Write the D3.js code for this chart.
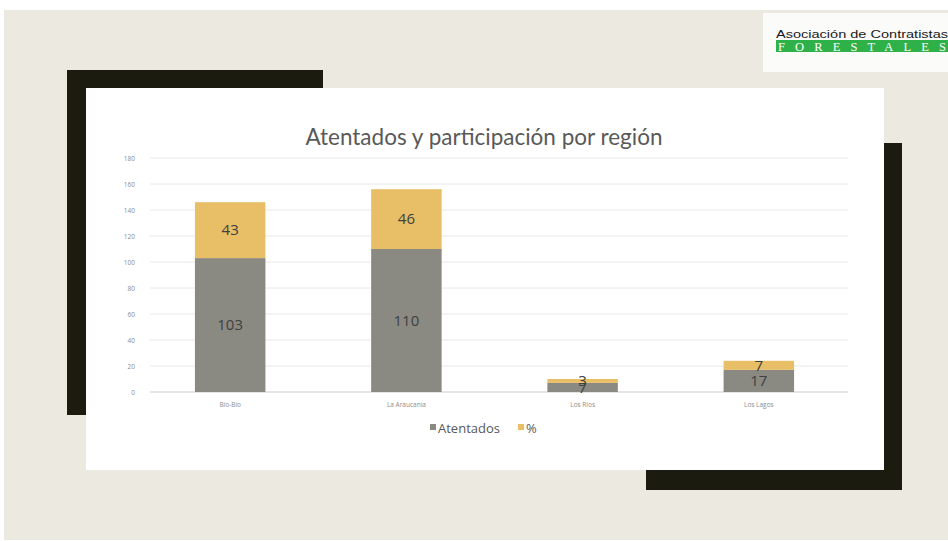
<!DOCTYPE html>
<html>
<head>
<meta charset="utf-8">
<script src="https://cdn.jsdelivr.net/npm/d3@7"></script>
<style>
  body { margin: 0; background: #fff; }
  svg { display: block; }
</style>
</head>
<body>
<div class="canvas"></div>
<script>
// chart data
const regions = ['Bío-Bío', 'La Araucanía', 'Los Ríos', 'Los Lagos'];
const atentados = [103, 110, 7, 17];
const pct = [43, 46, 3, 7];
const yTicks = [0, 20, 40, 60, 80, 100, 120, 140, 160, 180];
const seriesNames = ['Atentados', '%'];

const W = 948, H = 541;
const colors = { atentados: '#8a8a83', pct: '#e8bf66' };

const svg = d3.select('.canvas').append('svg')
    .attr('width', W)
    .attr('height', H);

// slide background + decorative frames
svg.append('rect').attr('x', 4).attr('y', 10).attr('width', W - 4).attr('height', 530).attr('fill', '#ece9e1');
svg.append('rect').attr('x', 67).attr('y', 70).attr('width', 256).attr('height', 18).attr('fill', '#1b1b10');
svg.append('rect').attr('x', 67).attr('y', 70).attr('width', 19).attr('height', 345).attr('fill', '#1b1b10');
svg.append('rect').attr('x', 884).attr('y', 143).attr('width', 18).attr('height', 347).attr('fill', '#1b1b10');
svg.append('rect').attr('x', 646).attr('y', 470).attr('width', 256).attr('height', 20).attr('fill', '#1b1b10');
svg.append('rect').attr('x', 86).attr('y', 88).attr('width', 798).attr('height', 382).attr('fill', '#ffffff');

// logo
const logo = svg.append('g');
logo.append('rect').attr('x', 763).attr('y', 13).attr('width', 185).attr('height', 59).attr('fill', '#fbfbfa');
logo.append('text').attr('x', 776).attr('y', 38)
    .attr('font-family', 'Liberation Sans Narrow, Liberation Sans, sans-serif')
    .attr('font-size', 11).attr('fill', '#1a1a1a')
    .attr('textLength', 172).attr('lengthAdjust', 'spacingAndGlyphs')
    .text('Asociación de Contratistas');
logo.append('rect').attr('x', 776).attr('y', 40).attr('width', 172).attr('height', 12).attr('fill', '#2fb14a');
logo.append('text').attr('x', 778).attr('y', 51)
    .attr('font-family', 'Liberation Serif, serif')
    .attr('font-size', 12.5).attr('fill', '#ffffff')
    .attr('textLength', 168).attr('lengthAdjust', 'spacing')
    .text('FORESTALES');

// chart area
const plot = { left: 150, right: 848, top: 158, bottom: 392 };

const x = d3.scaleBand()
    .domain(regions)
    .range([plot.left, 839])
    .paddingInner(0.6)
    .paddingOuter(0.255);

const y = d3.scaleLinear()
    .domain([0, 180])
    .range([plot.bottom, plot.top]);

// title
svg.append('text')
    .attr('x', 484).attr('y', 145)
    .attr('text-anchor', 'middle')
    .attr('font-family', 'Lato, Open Sans, sans-serif')
    .attr('font-size', 22.5)
    .attr('fill', '#595959')
    .text('Atentados y participación por región');

// gridlines
svg.append('g')
    .selectAll('line')
    .data(yTicks)
    .join('line')
    .attr('x1', plot.left).attr('x2', plot.right)
    .attr('y1', d => y(d)).attr('y2', d => y(d))
    .attr('stroke', '#e8e8e8')
    .attr('stroke-width', 1);

// y axis labels
const yAxis = svg.append('g')
    .attr('transform', `translate(${plot.left - 15},0)`)
    .call(d3.axisLeft(y).tickValues(yTicks).tickSize(0).tickPadding(0));
yAxis.select('.domain').remove();
yAxis.selectAll('text')
    .attr('font-family', 'Open Sans, sans-serif')
    .attr('font-size', 6.5)
    .attr('fill', '#8c8c8c');

// x axis labels
const xAxis = svg.append('g')
    .attr('transform', `translate(0,${plot.bottom})`)
    .call(d3.axisBottom(x).tickSize(0).tickPadding(10));
xAxis.select('.domain').remove();
xAxis.selectAll('text')
    .attr('font-family', 'Open Sans, sans-serif')
    .attr('font-size', 6.5)
    .attr('fill', '#8c8c8c');
svg.append('line')
    .attr('x1', plot.left).attr('x2', plot.right)
    .attr('y1', plot.bottom).attr('y2', plot.bottom)
    .attr('stroke', '#d9d9d9');

// stacked bars
const rows = regions.map((r, i) => ({ region: r, atentados: atentados[i], pct: pct[i] }));
const stack = d3.stack().keys(['atentados', 'pct'])(rows);

const layers = svg.append('g')
    .selectAll('g')
    .data(stack)
    .join('g')
    .attr('fill', d => colors[d.key]);

layers.selectAll('rect')
    .data(d => d)
    .join('rect')
    .attr('x', d => x(d.data.region))
    .attr('width', x.bandwidth())
    .attr('y', d => y(d[1]))
    .attr('height', d => y(d[0]) - y(d[1]));

// value labels
stack.forEach(layer => {
    svg.append('g')
        .selectAll('text')
        .data(layer)
        .join('text')
        .attr('x', d => x(d.data.region) + x.bandwidth() / 2)
        .attr('y', d => (y(d[0]) + y(d[1])) / 2)
        .attr('dy', '0.35em')
        .attr('text-anchor', 'middle')
        .attr('font-family', 'Open Sans, sans-serif')
        .attr('font-size', 15)
        .attr('fill', '#404040')
        .text(d => d.data[layer.key]);
});

// legend
const legend = svg.append('g').attr('transform', 'translate(430,428)');
const legendItems = [
    { name: seriesNames[0], color: colors.atentados, dx: 0 },
    { name: seriesNames[1], color: colors.pct, dx: 88 }
];
legendItems.forEach(it => {
    legend.append('rect').attr('x', it.dx).attr('y', -4).attr('width', 6).attr('height', 6).attr('fill', it.color);
    legend.append('text').attr('x', it.dx + 8).attr('y', 0).attr('dy', '0.35em')
        .attr('font-family', 'Liberation Sans Narrow, Open Sans, sans-serif')
        .attr('font-size', 13).attr('fill', '#595959')
        .text(it.name);
});
</script>
</body>
</html>
